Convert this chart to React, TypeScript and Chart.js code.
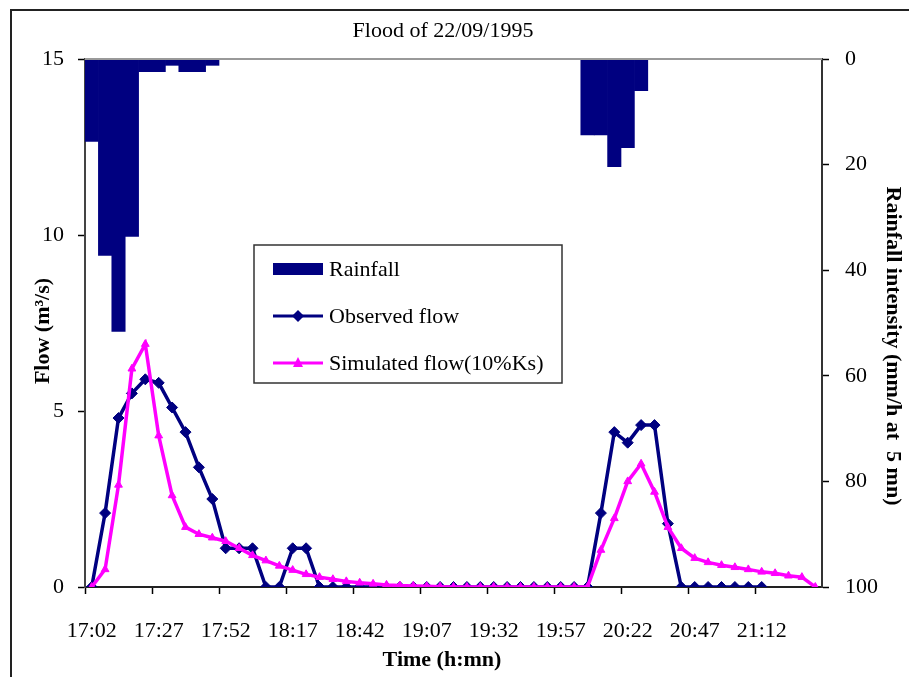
import React, { useEffect, useRef } from "react";
import { Chart, registerables } from "chart.js";

Chart.register(...registerables);

const timeLabels = [
  "17:02", "17:07", "17:12", "17:17", "17:22", "17:27", "17:32", "17:37", "17:42", "17:47",
  "17:52", "17:57", "18:02", "18:07", "18:12", "18:17", "18:22", "18:27", "18:32", "18:37",
  "18:42", "18:47", "18:52", "18:57", "19:02", "19:07", "19:12", "19:17", "19:22", "19:27",
  "19:32", "19:37", "19:42", "19:47", "19:52", "19:57", "20:02", "20:07", "20:12", "20:17",
  "20:22", "20:27", "20:32", "20:37", "20:42", "20:47", "20:52", "20:57", "21:02", "21:07",
  "21:12", "21:17", "21:22", "21:27", "21:32",
];

// Rainfall intensity (mm/h at 5 mn), right axis (reversed)
const rainfall = [
  15.6, 37.2, 51.6, 33.6, 2.4, 2.4, 1.2, 2.4, 2.4, 1.2,
  0, 0, 0, 0, 0, 0, 0, 0, 0, 0,
  0, 0, 0, 0, 0, 0, 0, 0, 0, 0,
  0, 0, 0, 0, 0, 0, 0, 14.4, 14.4, 20.4,
  16.8, 6.0, 0, 0, 0, 0, 0, 0, 0, 0,
  0, 0, 0, 0, 0,
];

// Observed flow (m3/s)
const observedFlow = [
  0, 2.1, 4.8, 5.5, 5.9, 5.8, 5.1, 4.4, 3.4, 2.5,
  1.1, 1.1, 1.1, 0, 0, 1.1, 1.1, 0, 0, 0,
  0, 0, 0, 0, 0, 0, 0, 0, 0, 0,
  0, 0, 0, 0, 0, 0, 0, 0, 2.1, 4.4,
  4.1, 4.6, 4.6, 1.8, 0, 0, 0, 0, 0, 0,
  0, null, null, null, null,
];

// Simulated flow (10% Ks) (m3/s)
const simulatedFlow = [
  0, 0.5, 2.9, 6.2, 6.9, 4.3, 2.6, 1.7, 1.5, 1.4,
  1.3, 1.1, 0.9, 0.75, 0.6, 0.48, 0.36, 0.28, 0.22, 0.16,
  0.12, 0.09, 0.06, 0.04, 0.03, 0.02, 0.01, 0, 0, 0,
  0, 0, 0, 0, 0, 0, 0, 0, 1.05, 1.95,
  3.0, 3.5, 2.7, 1.7, 1.1, 0.82, 0.7, 0.62, 0.56, 0.5,
  0.43, 0.39, 0.32, 0.28, 0,
];

const flowTicks = [0, 5, 10, 15];
const rainTicks = [0, 20, 40, 60, 80, 100];

const chartTitle = "Flood of 22/09/1995";
const xTitle = "Time (h:mn)";
const yTitle = "Flow (m\u00B3/s)";
const y1Title = "Rainfall intensity (mm/h at  5 mn)";
const legendLabels = ["Rainfall", "Observed flow", "Simulated flow(10%Ks)"];

const NAVY = "#000080";
const MAGENTA = "#FF00FF";
const FONT = "'Liberation Serif', 'Times New Roman', serif";

const W = 909;
const H = 677;

const decorPlugin = {
  id: "decor",
  beforeDraw(chart: any) {
    const ctx = chart.ctx;
    ctx.save();
    ctx.fillStyle = "#fff";
    ctx.fillRect(0, 0, W, H);
    // outer frame
    ctx.strokeStyle = "#222";
    ctx.lineWidth = 2;
    ctx.strokeRect(11, 10, 1000, 1000);
    // title
    ctx.fillStyle = "#000";
    ctx.font = `22px ${FONT}`;
    ctx.textAlign = "center";
    ctx.textBaseline = "middle";
    ctx.fillText(chartTitle, 443, 31);
    // axis titles
    ctx.font = `bold 22px ${FONT}`;
    ctx.fillText(xTitle, 442, 660);
    ctx.save();
    ctx.translate(43, 331);
    ctx.rotate(-Math.PI / 2);
    ctx.fillText(yTitle, 0, 0);
    ctx.restore();
    ctx.save();
    ctx.translate(893, 346);
    ctx.rotate(Math.PI / 2);
    ctx.fillText(y1Title, 0, 0);
    ctx.restore();
    ctx.restore();
  },
  afterDraw(chart: any) {
    const ctx = chart.ctx;
    const a = chart.chartArea;
    ctx.save();
    // top (secondary) axis line
    ctx.strokeStyle = "#999";
    ctx.lineWidth = 2;
    ctx.beginPath();
    ctx.moveTo(a.left, a.top);
    ctx.lineTo(a.right, a.top);
    ctx.stroke();

    // legend box
    const bx = 254, by = 245, bw = 308, bh = 138;
    ctx.fillStyle = "#fff";
    ctx.fillRect(bx, by, bw, bh);
    ctx.strokeStyle = "#333";
    ctx.lineWidth = 1.5;
    ctx.strokeRect(bx, by, bw, bh);

    const sx = 273, ex = 323, mx = 298;
    const rows = [269, 316, 363];
    // rainfall swatch
    ctx.fillStyle = NAVY;
    ctx.fillRect(sx, rows[0] - 6, ex - sx, 12);
    // observed
    ctx.strokeStyle = NAVY;
    ctx.lineWidth = 3;
    ctx.beginPath();
    ctx.moveTo(sx, rows[1]);
    ctx.lineTo(ex, rows[1]);
    ctx.stroke();
    ctx.beginPath();
    ctx.moveTo(mx, rows[1] - 6);
    ctx.lineTo(mx + 6, rows[1]);
    ctx.lineTo(mx, rows[1] + 6);
    ctx.lineTo(mx - 6, rows[1]);
    ctx.closePath();
    ctx.fillStyle = NAVY;
    ctx.fill();
    // simulated
    ctx.strokeStyle = MAGENTA;
    ctx.beginPath();
    ctx.moveTo(sx, rows[2]);
    ctx.lineTo(ex, rows[2]);
    ctx.stroke();
    ctx.beginPath();
    ctx.moveTo(mx, rows[2] - 6);
    ctx.lineTo(mx + 5, rows[2] + 4);
    ctx.lineTo(mx - 5, rows[2] + 4);
    ctx.closePath();
    ctx.fillStyle = MAGENTA;
    ctx.fill();

    ctx.fillStyle = "#000";
    ctx.font = `22px ${FONT}`;
    ctx.textAlign = "left";
    ctx.textBaseline = "middle";
    legendLabels.forEach((t, i) => ctx.fillText(t, 329, rows[i] + 1));
    ctx.restore();
  },
};

export default function App() {
  const ref = useRef<HTMLCanvasElement>(null);

  useEffect(() => {
    if (!ref.current) return;
    const chart = new Chart(ref.current, {
      type: "bar",
      data: {
        labels: timeLabels,
        datasets: [
          {
            type: "line",
            label: legendLabels[2],
            data: simulatedFlow,
            yAxisID: "y",
            borderColor: MAGENTA,
            backgroundColor: MAGENTA,
            borderWidth: 3.5,
            pointStyle: "triangle",
            pointRadius: 4.5,
            pointBorderWidth: 1,
            pointBackgroundColor: MAGENTA,
            pointBorderColor: MAGENTA,
            tension: 0,
            order: 0,
          } as any,
          {
            type: "line",
            label: legendLabels[1],
            data: observedFlow,
            yAxisID: "y",
            borderColor: NAVY,
            backgroundColor: NAVY,
            borderWidth: 3.5,
            pointStyle: "rectRot",
            pointRadius: 5.5,
            pointBorderWidth: 1,
            pointBackgroundColor: NAVY,
            pointBorderColor: NAVY,
            tension: 0,
            spanGaps: false,
            order: 1,
          } as any,
          {
            type: "bar",
            label: legendLabels[0],
            data: rainfall,
            yAxisID: "y1",
            backgroundColor: NAVY,
            borderWidth: 0,
            categoryPercentage: 1,
            barPercentage: 1,
            order: 2,
          } as any,
        ],
      },
      options: {
        responsive: false,
        animation: false,
        devicePixelRatio: 1,
        layout: { padding: { top: 59, left: 0, right: 0, bottom: 0 } },
        plugins: {
          legend: { display: false },
          title: { display: false },
          tooltip: { enabled: false },
        },
        scales: {
          x: {
            type: "category",
            offset: true,
            afterFit: (s: any) => { s.height = H - 587; },
            grid: {
              offset: true,
              drawOnChartArea: false,
              drawTicks: true,
              tickLength: 7,
              tickWidth: 1.5,
              tickColor: (c: any) => (c.index % 5 === 0 ? "#000" : "rgba(0,0,0,0)"),
            },
            border: { color: "#222", width: 2 },
            ticks: {
              autoSkip: false,
              maxRotation: 0,
              minRotation: 0,
              padding: 24,
              color: "#000",
              font: { family: FONT, size: 22 },
              callback: (_v: any, i: number) => (i % 5 === 0 ? timeLabels[i] : ""),
            },
            title: { display: false },
          },
          y: {
            type: "linear",
            position: "left",
            min: 0,
            max: 15,
            afterFit: (s: any) => { s.width = 85; },
            afterBuildTicks: (s: any) => { s.ticks = flowTicks.map((v) => ({ value: v })); },
            grid: { drawOnChartArea: false, tickLength: 7, tickWidth: 1.5, tickColor: "#000" },
            border: { color: "#444", width: 2 },
            ticks: {
              padding: 14,
              color: "#000",
              font: { family: FONT, size: 22 },
            },
            title: { display: false },
          },
          y1: {
            type: "linear",
            position: "right",
            reverse: true,
            min: 0,
            max: 100,
            afterFit: (s: any) => { s.width = W - 822; },
            afterBuildTicks: (s: any) => { s.ticks = rainTicks.map((v) => ({ value: v })); },
            grid: { drawOnChartArea: false, tickLength: 7, tickWidth: 1.5, tickColor: "#000" },
            border: { color: "#333", width: 2 },
            ticks: {
              padding: 16,
              color: "#000",
              font: { family: FONT, size: 22 },
            },
            title: { display: false },
          },
        },
      },
      plugins: [decorPlugin],
    });
    return () => chart.destroy();
  }, []);

  return (
    <div style={{ position: "absolute", left: 0, top: 0, width: W, height: H }}>
      <canvas ref={ref} width={W} height={H} style={{ width: W, height: H, display: "block" }} />
    </div>
  );
}
